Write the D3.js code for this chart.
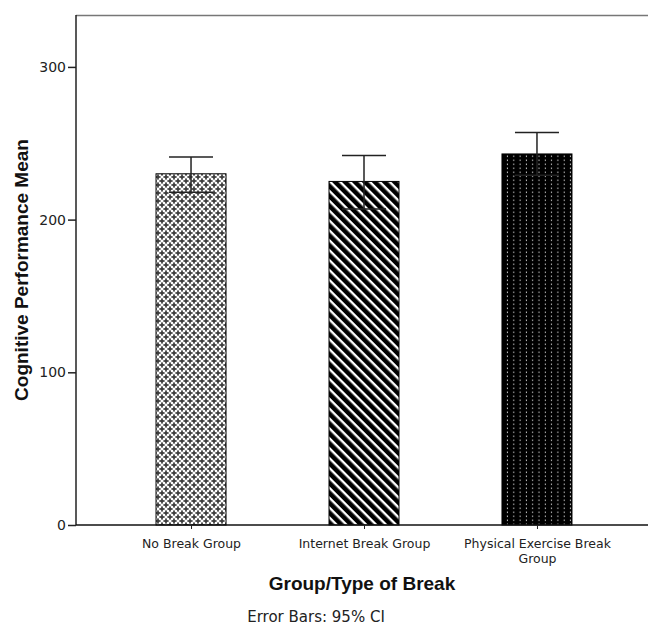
<!DOCTYPE html>
<html>
<head>
<meta charset="utf-8">
<script src="https://cdn.jsdelivr.net/npm/d3@7"></script>
<style>
  body { margin: 0; background: #fff; }
  .tick text { font-family: "DejaVu Sans", sans-serif; fill: #222; }
</style>
</head>
<body>
<div id="chart"></div>
<script>
// data
var groups = ["No Break Group", "Internet Break Group", "Physical Exercise Break Group"];
var means = [230, 225, 243];
var ciLow = [218, 207, 229];
var ciHigh = [241, 242, 257];
var yTicks = [0, 100, 200, 300];
var patterns = ["pCross", "pDiag", "pDots"];

var width = 648, height = 630;
var margin = {top: 15, right: 0, bottom: 105, left: 76};
var w = width - margin.left - margin.right;
var h = height - margin.top - margin.bottom;

var svg = d3.select("#chart").append("svg")
    .attr("width", width)
    .attr("height", height);

// fill patterns for the bars
var defs = svg.append("defs");

var p1 = defs.append("pattern").attr("id", "pCross")
    .attr("patternUnits", "userSpaceOnUse").attr("width", 8).attr("height", 8);
p1.append("rect").attr("width", 8).attr("height", 8).attr("fill", "#fff");
[[2, 2], [6, 6], [10, 2], [2, 10], [-2, 6], [6, -2]].forEach(function (c) {
  p1.append("rect").attr("x", c[0] - 2.6).attr("y", c[1] - 0.85).attr("width", 5.2).attr("height", 1.7).attr("fill", "#3a3a3a");
  p1.append("rect").attr("x", c[0] - 0.85).attr("y", c[1] - 2.6).attr("width", 1.7).attr("height", 5.2).attr("fill", "#3a3a3a");
});

var p2 = defs.append("pattern").attr("id", "pDiag")
    .attr("patternUnits", "userSpaceOnUse").attr("width", 7).attr("height", 7)
    .attr("patternTransform", "rotate(-45)");
p2.append("rect").attr("width", 7).attr("height", 7).attr("fill", "#fff");
p2.append("rect").attr("width", 4.6).attr("height", 7).attr("fill", "#000");

var p3 = defs.append("pattern").attr("id", "pDots")
    .attr("patternUnits", "userSpaceOnUse").attr("width", 6.3).attr("height", 4);
p3.append("rect").attr("width", 6.3).attr("height", 4).attr("fill", "#000");
p3.append("rect").attr("x", 2.6).attr("y", 0.5).attr("width", 1).attr("height", 1.6).attr("fill", "#bbb");

var g = svg.append("g")
    .attr("transform", "translate(" + margin.left + "," + margin.top + ")");

var x = d3.scalePoint()
    .domain(groups)
    .range([0, w + 4])
    .padding(0.665);

var y = d3.scaleLinear()
    .domain([0, 334])
    .range([h, 0]);

var barW = 70, capW = 44;

// frame top line
g.append("line")
  .attr("x1", 0).attr("x2", w)
  .attr("y1", 0.5).attr("y2", 0.5)
  .attr("stroke", "#777").attr("stroke-width", 1.5);

// bars
g.selectAll(".bar")
  .data(groups)
  .enter().append("rect")
  .attr("class", "bar")
  .attr("x", function (d) { return x(d) - barW / 2; })
  .attr("y", function (d, i) { return y(means[i]); })
  .attr("width", barW)
  .attr("height", function (d, i) { return h - y(means[i]); })
  .attr("fill", function (d, i) { return "url(#" + patterns[i] + ")"; })
  .attr("stroke", "#000")
  .attr("stroke-width", 1);

// error bars
var err = g.selectAll(".err")
  .data(groups)
  .enter().append("g")
  .attr("class", "err")
  .attr("stroke", "#222")
  .attr("stroke-width", 1.5);

err.append("line")
  .attr("x1", function (d) { return x(d); })
  .attr("x2", function (d) { return x(d); })
  .attr("y1", function (d, i) { return y(ciLow[i]); })
  .attr("y2", function (d, i) { return y(ciHigh[i]); });

err.append("line")
  .attr("x1", function (d) { return x(d) - capW / 2; })
  .attr("x2", function (d) { return x(d) + capW / 2; })
  .attr("y1", function (d, i) { return y(ciHigh[i]); })
  .attr("y2", function (d, i) { return y(ciHigh[i]); });

err.append("line")
  .attr("x1", function (d) { return x(d) - capW / 2; })
  .attr("x2", function (d) { return x(d) + capW / 2; })
  .attr("y1", function (d, i) { return y(ciLow[i]); })
  .attr("y2", function (d, i) { return y(ciLow[i]); });

// y axis
var yAxis = d3.axisLeft(y).tickValues(yTicks).tickSize(8).tickPadding(2);
var ya = g.append("g").attr("class", "y axis").call(yAxis);
ya.select(".domain").attr("d", "M0," + h + "V0").attr("stroke", "#222").attr("stroke-width", 1.5);
ya.selectAll(".tick line").attr("stroke", "#222").attr("stroke-width", 1.5);
ya.selectAll(".tick text").style("font-size", "14px");

// x axis
var xAxis = d3.axisBottom(x).tickSize(4).tickPadding(10);
var xa = g.append("g").attr("class", "x axis")
  .attr("transform", "translate(0," + h + ")")
  .call(xAxis);
xa.select(".domain").attr("d", "M0,0H" + w).attr("stroke", "#111").attr("stroke-width", 1.5);
xa.selectAll(".tick line").attr("stroke", "#222");
xa.selectAll(".tick text").style("font-size", "12.5px").each(function (d) {
  var t = d3.select(this);
  if (d === "Physical Exercise Break Group") {
    t.text(null).attr("dy", null);
    t.append("tspan").attr("x", 0).attr("dy", "0.71em").text("Physical Exercise Break");
    t.append("tspan").attr("x", 0).attr("dy", "1.2em").text("Group");
  }
});

// axis titles
svg.append("text")
  .attr("x", margin.left + w / 2)
  .attr("y", 590)
  .attr("text-anchor", "middle")
  .style("font-family", "'Liberation Sans', Arial, sans-serif")
  .style("font-weight", "bold")
  .style("font-size", "19px")
  .attr("fill", "#111")
  .text("Group/Type of Break");

svg.append("text")
  .attr("transform", "rotate(-90)")
  .attr("x", -(margin.top + h / 2))
  .attr("y", 28)
  .attr("text-anchor", "middle")
  .style("font-family", "'Liberation Sans', Arial, sans-serif")
  .style("font-weight", "bold")
  .style("font-size", "19px")
  .attr("fill", "#111")
  .text("Cognitive Performance Mean");

svg.append("text")
  .attr("x", 316)
  .attr("y", 622)
  .attr("text-anchor", "middle")
  .style("font-family", "'DejaVu Sans', sans-serif")
  .style("font-size", "15px")
  .attr("fill", "#222")
  .text("Error Bars: 95% CI");
</script>
</body>
</html>
